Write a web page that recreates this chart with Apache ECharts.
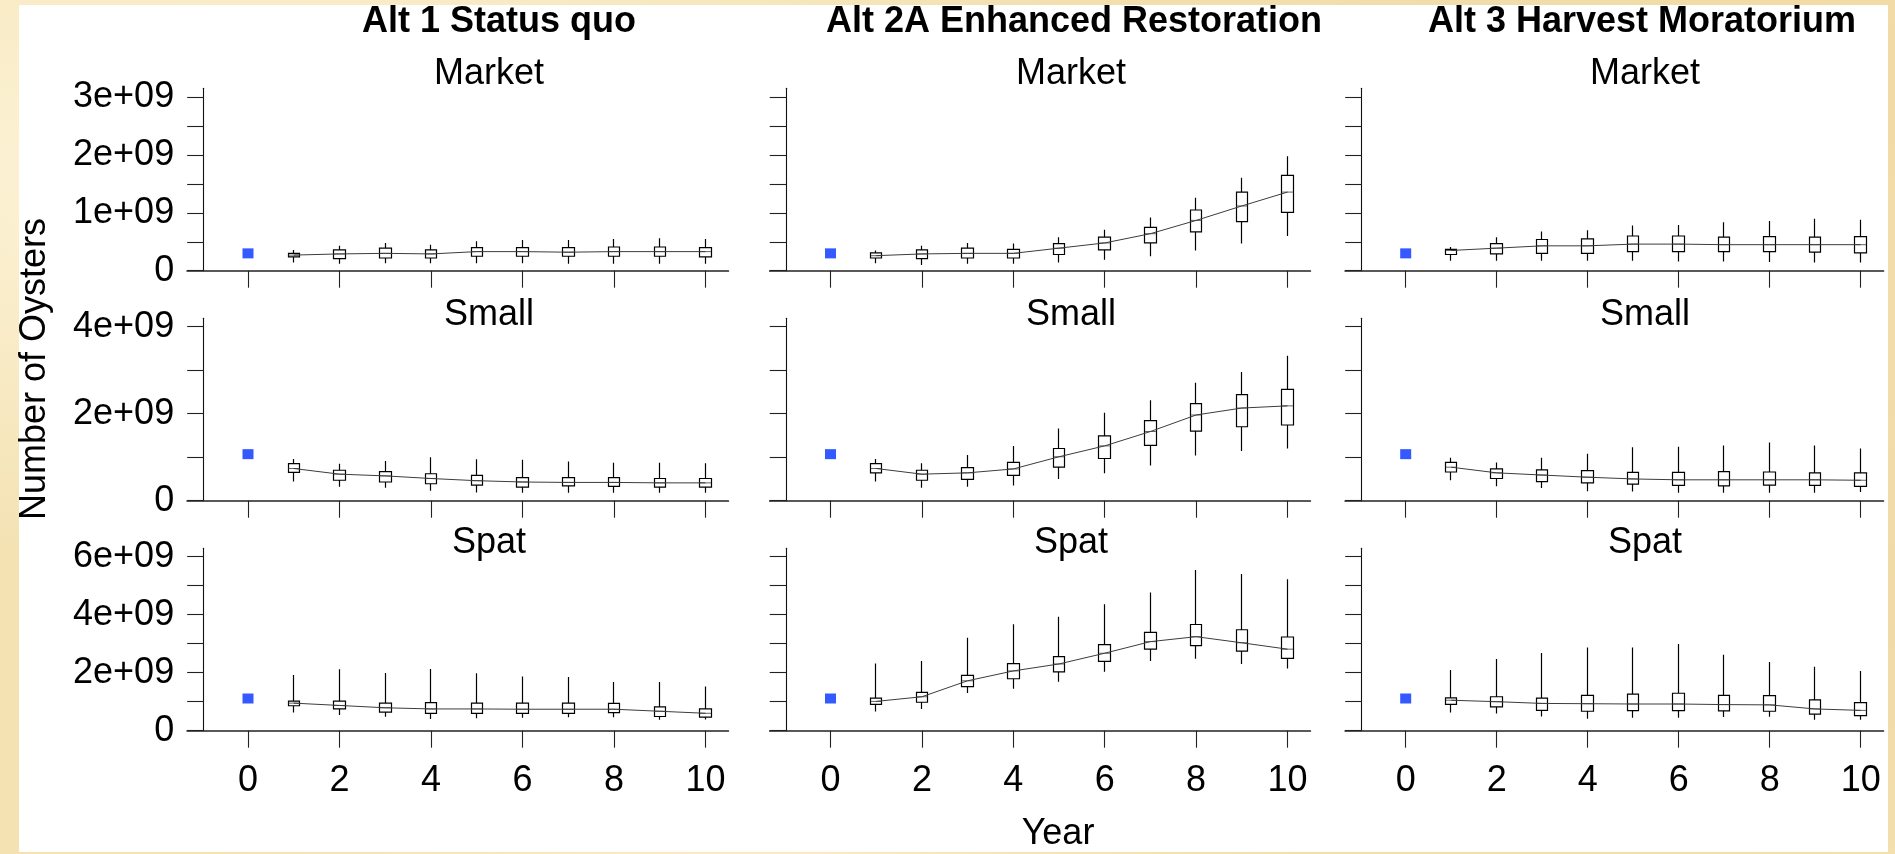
<!DOCTYPE html>
<html>
<head>
<meta charset="utf-8">
<script src="https://cdn.jsdelivr.net/npm/echarts@6/dist/echarts.min.js"></script>
<style>
html,body{margin:0;padding:0;width:1895px;height:854px;overflow:hidden;}
body{
  background-color:#f4e2b3;
  background-image:
    radial-gradient(ellipse at 10% 20%, rgba(255,248,225,0.8) 0%, rgba(255,248,225,0) 40%),
    radial-gradient(ellipse at 80% 70%, rgba(236,208,150,0.7) 0%, rgba(236,208,150,0) 45%),
    radial-gradient(ellipse at 40% 90%, rgba(252,240,205,0.8) 0%, rgba(252,240,205,0) 35%),
    radial-gradient(ellipse at 95% 10%, rgba(240,215,160,0.8) 0%, rgba(240,215,160,0) 40%);
}
#frame{position:absolute;left:19px;top:5px;width:1869px;height:847px;background:#ffffff;}
#chart{position:absolute;left:0;top:0;width:1895px;height:854px;}
</style>
</head>
<body>
<div id="frame"></div>
<div id="chart"></div>
<script>
// ---------------- data (values in units of 1e9 oysters) ----------------
const altTitles = ['Alt 1 Status quo', 'Alt 2A Enhanced Restoration', 'Alt 3 Harvest Moratorium'];
const classNames = ['Market', 'Small', 'Spat'];
const years = [1, 2, 3, 4, 5, 6, 7, 8, 9, 10];
const initialYear = 0;
const initialValues = [0.30, 1.07, 1.11];          // Market, Small, Spat at year 0

// each row: [low whisker, lower box edge, upper box edge, high whisker, line value]
const alt1Market = [
  [0.14,0.24,0.30,0.36,0.27],[0.12,0.21,0.36,0.43,0.29],[0.13,0.22,0.39,0.48,0.30],
  [0.13,0.22,0.36,0.45,0.29],[0.13,0.25,0.40,0.51,0.33],[0.13,0.25,0.40,0.53,0.33],
  [0.12,0.25,0.40,0.53,0.32],[0.12,0.25,0.41,0.55,0.33],[0.12,0.25,0.41,0.56,0.33],
  [0.12,0.24,0.40,0.55,0.33]];
const alt2aMarket = [
  [0.13,0.22,0.31,0.35,0.26],[0.10,0.21,0.36,0.43,0.29],[0.12,0.22,0.39,0.48,0.30],
  [0.12,0.22,0.37,0.47,0.30],[0.14,0.28,0.47,0.58,0.39],[0.19,0.36,0.58,0.71,0.48],
  [0.25,0.48,0.75,0.92,0.64],[0.35,0.67,1.05,1.26,0.87],[0.47,0.85,1.36,1.61,1.12],
  [0.60,1.01,1.65,1.98,1.36]];
const alt3Market = [
  [0.17,0.28,0.37,0.41,0.35],[0.17,0.29,0.47,0.58,0.39],[0.17,0.30,0.54,0.68,0.43],
  [0.17,0.30,0.55,0.70,0.43],[0.17,0.33,0.60,0.78,0.46],[0.16,0.33,0.60,0.79,0.46],
  [0.16,0.33,0.58,0.84,0.45],[0.15,0.33,0.59,0.86,0.45],[0.14,0.32,0.58,0.90,0.45],
  [0.14,0.31,0.59,0.88,0.45]];
const alt1Small = [
  [0.44,0.65,0.85,0.96,0.74],[0.32,0.47,0.70,0.85,0.61],[0.30,0.43,0.67,0.91,0.57],
  [0.23,0.39,0.62,1.00,0.51],[0.19,0.36,0.58,0.95,0.46],[0.18,0.31,0.53,0.94,0.43],
  [0.18,0.34,0.53,0.90,0.42],[0.18,0.33,0.53,0.87,0.42],[0.18,0.31,0.51,0.87,0.41],
  [0.18,0.31,0.51,0.86,0.41]];
const alt2aSmall = [
  [0.44,0.64,0.85,0.96,0.74],[0.30,0.47,0.70,0.86,0.61],[0.32,0.49,0.76,1.05,0.64],
  [0.35,0.58,0.88,1.26,0.73],[0.50,0.77,1.20,1.66,1.01],[0.63,0.97,1.49,2.02,1.26],
  [0.81,1.27,1.84,2.31,1.59],[1.04,1.60,2.23,2.71,1.97],[1.14,1.70,2.44,2.96,2.13],
  [1.20,1.74,2.56,3.33,2.18]];
const alt3Small = [
  [0.47,0.66,0.88,0.99,0.77],[0.33,0.51,0.73,0.88,0.64],[0.29,0.44,0.71,0.99,0.59],
  [0.22,0.41,0.69,1.08,0.54],[0.21,0.38,0.65,1.23,0.50],[0.18,0.35,0.65,1.24,0.48],
  [0.18,0.34,0.67,1.27,0.48],[0.18,0.36,0.66,1.34,0.48],[0.18,0.35,0.64,1.27,0.48],
  [0.20,0.33,0.64,1.20,0.47]];
const alt1Spat = [
  [0.63,0.86,1.02,1.92,0.95],[0.54,0.75,1.02,2.12,0.87],[0.48,0.64,0.95,1.99,0.79],
  [0.40,0.60,0.97,2.13,0.75],[0.43,0.60,0.95,1.98,0.75],[0.45,0.60,0.95,1.87,0.74],
  [0.46,0.60,0.95,1.85,0.74],[0.46,0.62,0.94,1.68,0.74],[0.38,0.49,0.82,1.68,0.67],
  [0.39,0.47,0.75,1.52,0.60]];
const alt2aSpat = [
  [0.66,0.91,1.12,2.32,1.01],[0.75,0.98,1.32,2.40,1.17],[1.30,1.52,1.91,3.20,1.72],
  [1.45,1.79,2.31,3.67,2.06],[1.69,2.03,2.55,3.93,2.30],[2.03,2.39,2.97,4.36,2.67],
  [2.40,2.81,3.39,4.76,3.07],[2.48,2.93,3.66,5.54,3.24],[2.30,2.74,3.48,5.40,3.03],
  [2.14,2.49,3.23,5.22,2.81]];
const alt3Spat = [
  [0.63,0.91,1.13,2.09,1.05],[0.59,0.82,1.17,2.47,1.00],[0.49,0.70,1.12,2.68,0.94],
  [0.41,0.67,1.22,2.87,0.93],[0.45,0.69,1.26,2.87,0.92],[0.45,0.69,1.29,2.99,0.92],
  [0.47,0.68,1.22,2.62,0.90],[0.48,0.67,1.21,2.37,0.89],[0.38,0.57,1.06,2.20,0.75],
  [0.38,0.52,0.97,2.06,0.70]];

// tick values / labels
const xTickValues = [0, 2, 4, 6, 8, 10];
const xTickLabels = ['0', '2', '4', '6', '8', '10'];
const marketTickValues = [0, 0.5, 1, 1.5, 2, 2.5, 3];
const marketLabelValues = [0, 1, 2, 3];
const marketLabels = ['0', '1e+09', '2e+09', '3e+09'];
const smallTickValues = [0, 1, 2, 3, 4];
const smallLabelValues = [0, 2, 4];
const smallLabels = ['0', '2e+09', '4e+09'];
const spatTickValues = [0, 1, 2, 3, 4, 5, 6];
const spatLabelValues = [0, 2, 4, 6];
const spatLabels = ['0', '2e+09', '4e+09', '6e+09'];

// ---------------- layout ----------------
const FONT = '"Liberation Sans", Arial, Helvetica, sans-serif';
const panels = [
  [alt1Market, alt2aMarket, alt3Market],
  [alt1Small, alt2aSmall, alt3Small],
  [alt1Spat, alt2aSpat, alt3Spat]
];
const rowTicks = [marketTickValues, smallTickValues, spatTickValues];
const rowLabelVals = [marketLabelValues, smallLabelValues, spatLabelValues];
const rowLabels = [marketLabels, smallLabels, spatLabels];
const rowMax = [3.157, 4.195, 6.29];
const colX0 = [248, 830.5, 1405.7];
const colStep = [45.75, 45.7, 45.5];
const rowTop = [88.2, 318.2, 548.2];
const gridH = 182.5;
const xMin = -1.33, xMax = 10.5;

const grids = [], xAxes = [], yAxes = [], series = [];
for (let r = 0; r < 3; r++) {
  for (let c = 0; c < 3; c++) {
    const i = r * 3 + c;
    const rows = panels[r][c];
    grids.push({
      left: colX0[c] + xMin * colStep[c],
      top: rowTop[r],
      width: (xMax - xMin) * colStep[c],
      height: gridH,
      containLabel: false,
      outerBoundsMode: 'none'
    });
    xAxes.push({
      gridIndex: i, type: 'value', min: xMin, max: xMax,
      axisLine: { show: true, onZero: false, lineStyle: { color: '#222', width: 1.7 } },
      axisTick: { show: true, length: 17, inside: false, customValues: xTickValues,
                  lineStyle: { color: '#222', width: 1.1 } },
      axisLabel: { show: r === 2, customValues: xTickValues, margin: 32,
                   fontSize: 36, color: '#000', fontFamily: FONT,
                   formatter: v => { const k = xTickValues.indexOf(Math.round(v)); return k >= 0 ? xTickLabels[k] : ''; } },
      splitLine: { show: false }
    });
    const lv = rowLabelVals[r], ll = rowLabels[r];
    yAxes.push({
      gridIndex: i, type: 'value', min: 0, max: rowMax[r], offset: -16.5,
      axisLine: { show: true, onZero: false, lineStyle: { color: '#111', width: 1.1 } },
      axisTick: { show: true, length: 16.5, inside: false, customValues: rowTicks[r],
                  lineStyle: { color: '#222', width: 1.1 } },
      axisLabel: { show: c === 0, customValues: lv, margin: 29.5,
                   fontSize: 36, color: '#000', fontFamily: FONT,
                   formatter: v => { for (let k = 0; k < lv.length; k++) if (Math.abs(lv[k] - v) < 1e-6) return ll[k]; return ''; } },
      splitLine: { show: false }
    });
    series.push({
      type: 'candlestick', xAxisIndex: i, yAxisIndex: i,
      barWidth: 12,
      data: rows.map((d, k) => [years[k], d[1], d[2], d[0], d[3]]),
      itemStyle: { color: '#fff', color0: '#fff', borderColor: '#000', borderColor0: '#000', borderWidth: 1.2 },
      z: 2, silent: true
    });
    series.push({
      type: 'line', xAxisIndex: i, yAxisIndex: i,
      data: rows.map((d, k) => [years[k], d[4]]),
      symbol: 'none', showSymbol: false,
      lineStyle: { color: '#3c3c3c', width: 1 },
      z: 3, silent: true
    });
    series.push({
      type: 'scatter', xAxisIndex: i, yAxisIndex: i,
      data: rows.map((d, k) => [years[k], d[4]]),
      symbol: 'rect', symbolSize: [11, 1],
      itemStyle: { color: '#3c3c3c' },
      z: 4, silent: true
    });
    series.push({
      type: 'scatter', xAxisIndex: i, yAxisIndex: i,
      data: [[initialYear, initialValues[r]]],
      symbol: 'rect', symbolSize: [11, 10],
      itemStyle: { color: '#0030ff' },
      z: 4, silent: true
    });
  }
}

const titleX = [499, 1074, 1642];
const subX = [489, 1071, 1645];
const subY = [74, 315, 543];
const graphics = [];
altTitles.forEach((t, c) => graphics.push({
  type: 'text', x: titleX[c], y: 22,
  style: { text: t, fill: '#000', font: 'bold 36px ' + FONT, textAlign: 'center', textVerticalAlign: 'middle', verticalAlign: 'middle' }
}));
for (let r = 0; r < 3; r++) for (let c = 0; c < 3; c++) graphics.push({
  type: 'text', x: subX[c], y: subY[r],
  style: { text: classNames[r], fill: '#000', font: '36px ' + FONT, textAlign: 'center', textVerticalAlign: 'middle', verticalAlign: 'middle' }
});
graphics.push({
  type: 'text', x: 35, y: 369, rotation: Math.PI / 2,
  style: { text: 'Number of Oysters', fill: '#000', font: '36px ' + FONT, textAlign: 'center', textVerticalAlign: 'middle', verticalAlign: 'middle' }
});
graphics.push({
  type: 'text', x: 1058, y: 834,
  style: { text: 'Year', fill: '#000', font: '36px ' + FONT, textAlign: 'center', textVerticalAlign: 'middle', verticalAlign: 'middle' }
});

const chart = echarts.init(document.getElementById('chart'), null, { renderer: 'canvas' });
chart.setOption({
  backgroundColor: 'transparent',
  animation: false,
  grid: grids,
  xAxis: xAxes,
  yAxis: yAxes,
  series: series,
  graphic: graphics
});
</script>
</body>
</html>
